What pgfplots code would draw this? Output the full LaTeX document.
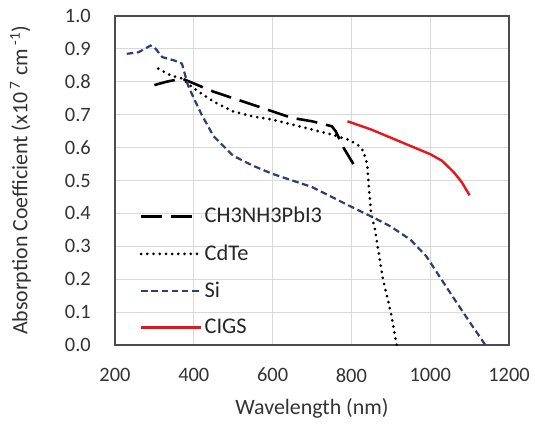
\documentclass[border=0pt]{standalone}
\usepackage{pgfplots}
\pgfplotsset{compat=1.18}
\usepackage{fontspec}
\setmainfont{Carlito}
\definecolor{sicol}{HTML}{2B3F73}
\definecolor{cigs}{HTML}{E8151C}
\definecolor{gridc}{HTML}{D9D9D9}
\begin{document}
\fontsize{21}{25}\selectfont
\begin{tikzpicture}
\begin{axis}[
  scale only axis,
  width=394bp, height=329bp,
  xmin=200, xmax=1200, ymin=0, ymax=1.0,
  xtick={200,400,...,1200},
  ytick={0,0.1,...,1.0},
  yticklabel style={/pgf/number format/.cd,fixed,fixed zerofill,precision=1,/tikz/.cd,xshift=-17bp},
  /pgf/number format/assume math mode=true,
  xticklabel style={/pgf/number format/1000 sep={},/tikz/.cd,yshift=-16bp},
  tick label style={font=\fontsize{20.5}{25}\selectfont, text=black!80},
  label style={font=\fontsize{22}{26}\selectfont, text=black!80},
  grid=major,
  major grid style={gridc, line width=1bp},
  tick style={draw=none},
  axis line style={black!70, line width=1.2bp},
  xlabel={Wavelength (nm)},
  ylabel={Absorption Coefficient (x10\textsuperscript{ 7} cm\textsuperscript{ -1})},
  xlabel style={yshift=-2bp},
  ylabel style={yshift=20bp},
  legend style={draw=none, fill=none, at={(0.062,0.425)}, anchor=north west,
    font=\fontsize{22.5}{26}\selectfont, text=black!85, row sep=14.5bp,
    inner sep=0pt},
  legend cell align=left,
  legend image code/.code={\draw[#1] (0bp,0bp) -- (60bp,0bp);},
]
\addplot[black, line width=2.6bp, dash pattern=on 21bp off 9bp] coordinates {
(300,0.79)(330,0.80)(370,0.81)(400,0.795)(450,0.77)(500,0.75)(550,0.73)(600,0.71)(650,0.69)(700,0.68)(750,0.665)(760,0.65)(780,0.60)(805,0.55)
};
\addlegendentry{CH3NH3PbI3}
\addplot[black, line width=3bp, line cap=round, dash pattern=on 0bp off 6.2bp] coordinates {
(310,0.84)(340,0.82)(370,0.81)(400,0.78)(450,0.74)(500,0.71)(550,0.695)(600,0.685)(650,0.67)(700,0.655)(750,0.64)(790,0.625)(815,0.61)(830,0.59)(840,0.55)(845,0.47)(850,0.40)(860,0.35)(880,0.20)(900,0.10)(915,0.0)
};
\addlegendentry{CdTe}
\addplot[sicol, line width=2.2bp, dash pattern=on 6.5bp off 3.7bp] coordinates {
(230,0.885)(260,0.89)(290,0.91)(300,0.905)(320,0.875)(350,0.865)(370,0.855)(385,0.79)(400,0.75)(420,0.70)(450,0.635)(500,0.575)(550,0.545)(600,0.52)(700,0.48)(800,0.42)(860,0.385)(900,0.36)(950,0.32)(990,0.27)(1050,0.16)(1100,0.07)(1140,0.0)
};
\addlegendentry{Si}
\addplot[cigs, line width=2.4bp] coordinates {
(790,0.68)(850,0.655)(900,0.63)(950,0.605)(1000,0.58)(1030,0.56)(1060,0.525)(1080,0.495)(1100,0.455)
};
\addlegendentry{CIGS}
\end{axis}
\pgfresetboundingbox
\path ([xshift=-115bp,yshift=-80bp]current axis.south west) rectangle ([xshift=26bp,yshift=16bp]current axis.north east);
\end{tikzpicture}
\end{document}
